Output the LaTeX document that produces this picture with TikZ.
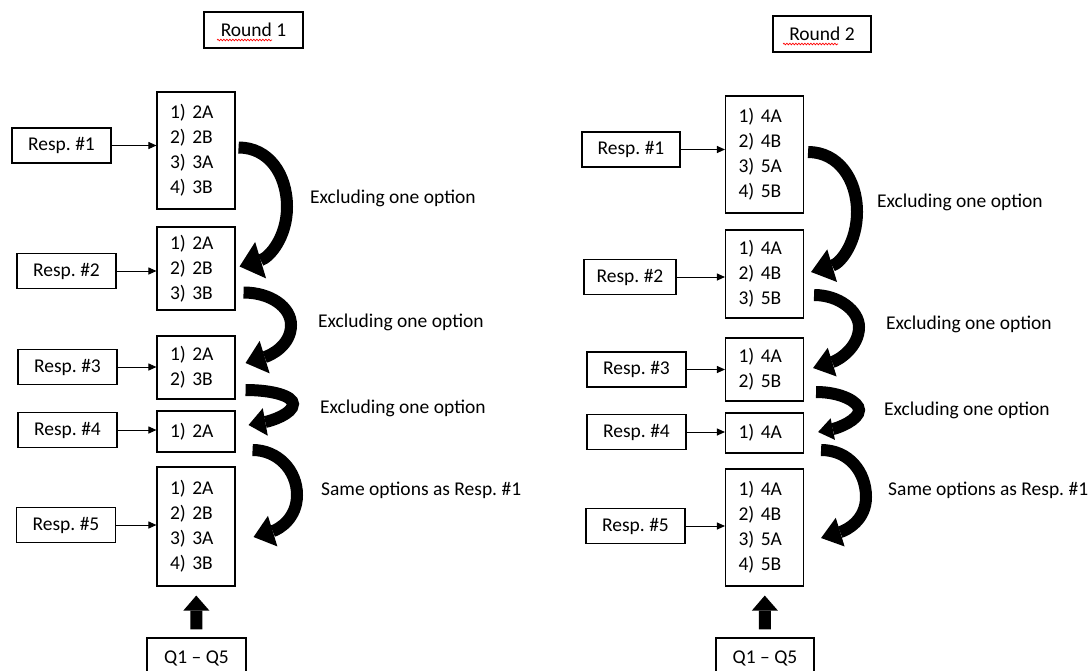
\documentclass[tikz,border=0pt]{standalone}
\usepackage{fontspec}
\setmainfont{Carlito}
\usetikzlibrary{arrows.meta,calc,decorations.pathmorphing}
\newcommand\figfont{\fontsize{19.5}{25}\selectfont\frenchspacing}
\begin{document}
\begin{tikzpicture}[x=1pt,y=-1pt,
	every node/.append style={font=\figfont},
	box/.style={draw,line width=1.1pt,inner sep=0pt,minimum width=99pt,minimum height=35pt},
	opts/.style={draw,line width=1.1pt,align=left,text width=52pt,inner xsep=13pt,inner ysep=0pt},
	lbl/.style={anchor=west,inner sep=0pt},
	feed/.style={line width=1pt,-{Triangle[length=8pt,width=7pt]}},
	curl/.style 2 args={line width=12pt,-{Triangle[length=#1,width=#2,line width=0pt]}},
	bigarr/.style={line width=12pt,-{Triangle[length=15pt,width=26pt,line width=0pt]},shorten <=8pt,shorten >=9pt},
	squiggle/.style={red,line width=0.7pt,decorate,decoration={snake,amplitude=0.8pt,segment length=3pt}}]
	\useasboundingbox (0,0) rectangle (1091,670);
	\clip (0,0) rectangle (1091,670);

	% Round 1
	\node[box,minimum height=36pt] (rd1) at (253.5,30) {Round 1};
	\draw[squiggle] (217,40) -- (272,40);

	\node[box] (r1) at (61.5,145.5) {Resp. \#1};
	\node[box] (r2) at (66.5,271) {Resp. \#2};
	\node[box] (r3) at (67.5,367) {Resp. \#3};
	\node[box] (r4) at (67.5,430) {Resp. \#4};
	\node[box] (r5) at (66,525) {Resp. \#5};

	\node[opts,minimum height=117pt] (b1) at (196,150.5) {1) 2A\\2) 2B\\3) 3A\\4) 3B};
	\node[opts,minimum height=83pt] (b2) at (196,268.5) {1) 2A\\2) 2B\\3) 3B};
	\node[opts,minimum height=63pt] (b3) at (196,367.5) {1) 2A\\2) 3B};
	\node[opts,minimum height=41pt] (b4) at (196,431.5) {1) 2A};
	\node[opts,minimum height=119pt] (b5) at (196,526.5) {1) 2A\\2) 2B\\3) 3A\\4) 3B};

	\foreach \i in {1,...,5}
		\draw[feed] (r\i) -- (r\i -| b\i.west);

	\draw[curl={22pt}{38pt}] ($(b1.east)+(3,-3)$) .. controls +(30,0) and +(0,-33) .. (287,207) .. controls +(0,30) and +(30,-9) .. ($(b2.east)+(4,-2)$);
	\draw[curl={20pt}{34pt}] ($(b2.east)+(8,24)$) .. controls +(27,0) and +(0,-18) .. (291,325) .. controls +(0,20) and +(26,-8) .. ($(b3.east)+(10,-4.5)$);
	\draw[curl={17pt}{28pt}] ($(b3.east)+(10,22.5)$) .. controls +(27,0) and +(0,-8) .. (293,404) .. controls +(0,10) and +(22,-4) .. ($(b4.east)+(13,-6.5)$);
	\draw[curl={20pt}{32pt}] ($(b4.east)+(17,18.5)$) .. controls +(25,0) and +(0,-25) .. (297,495) .. controls +(0,23) and +(26,-8) .. ($(b5.east)+(18,10.5)$);

	\node[lbl] (e1) at (310,198) {Excluding one option};
	\node[lbl] (e2) at (318,322) {Excluding one option};
	\node[lbl] (e3) at (320,408) {Excluding one option};
	\node[lbl] (s1) at (321,490) {Same options as Resp. \#1};

	\node[box,minimum height=40pt] (q1) at (196.5,658) {Q1 – Q5};
	\draw[bigarr] (q1) -- (b5);

	% Round 2
	\node[box,minimum width=98pt,minimum height=36pt] (rd2) at (822,34) {Round 2};
	\draw[squiggle] (783,44) -- (838,44);

	\node[box,minimum width=98pt] (rr1) at (631,149.5) {Resp. \#1};
	\node[box,minimum width=92pt] (rr2) at (630,277) {Resp. \#2};
	\node[box] (rr3) at (636.5,369.5) {Resp. \#3};
	\node[box] (rr4) at (636.5,432) {Resp. \#4};
	\node[box] (rr5) at (635.5,526) {Resp. \#5};

	\node[opts,minimum height=117pt] (bb1) at (764.5,154.5) {1) 4A\\2) 4B\\3) 5A\\4) 5B};
	\node[opts,minimum height=88pt] (bb2) at (764.5,274) {1) 4A\\2) 4B\\3) 5B};
	\node[opts,minimum height=63pt] (bb3) at (764.5,369.5) {1) 4A\\2) 5B};
	\node[opts,minimum height=40pt] (bb4) at (764.5,433) {1) 4A};
	\node[opts,minimum height=117pt] (bb5) at (764.5,527.5) {1) 4A\\2) 4B\\3) 5A\\4) 5B};

	\foreach \i in {1,...,5}
		\draw[feed] (rr\i) -- (rr\i -| bb\i.west);

	\draw[curl={22pt}{34pt}] ($(bb1.east)+(4,-2.5)$) .. controls +(30,0) and +(0,-33) .. (857,212) .. controls +(0,30) and +(30,-9) .. ($(bb2.east)+(7,-2)$);
	\draw[curl={20pt}{30pt}] ($(bb2.east)+(10,21)$) .. controls +(25,0) and +(0,-16) .. (859,327) .. controls +(0,20) and +(26,-8) .. ($(bb3.east)+(9,-1.5)$);
	\draw[curl={15pt}{22pt}] ($(bb3.east)+(12,22.5)$) .. controls +(25,0) and +(0,-8) .. (859,410) .. controls +(0,10) and +(20,-4) .. ($(bb4.east)+(14,-1)$);
	\draw[curl={20pt}{30pt}] ($(bb4.east)+(17,17)$) .. controls +(28,0) and +(0,-25) .. (866,497) .. controls +(0,23) and +(26,-8) .. ($(bb5.east)+(17,10.5)$);

	\node[lbl] (ee1) at (877,202) {Excluding one option};
	\node[lbl] (ee2) at (886,324) {Excluding one option};
	\node[lbl] (ee3) at (884,410) {Excluding one option};
	\node[lbl] (ss1) at (888,490) {Same options as Resp. \#1};

	\node[box,minimum width=98pt,minimum height=40pt] (q2) at (765,658) {Q1 – Q5};
	\draw[bigarr] (q2) -- (bb5);
\end{tikzpicture}
\end{document}
